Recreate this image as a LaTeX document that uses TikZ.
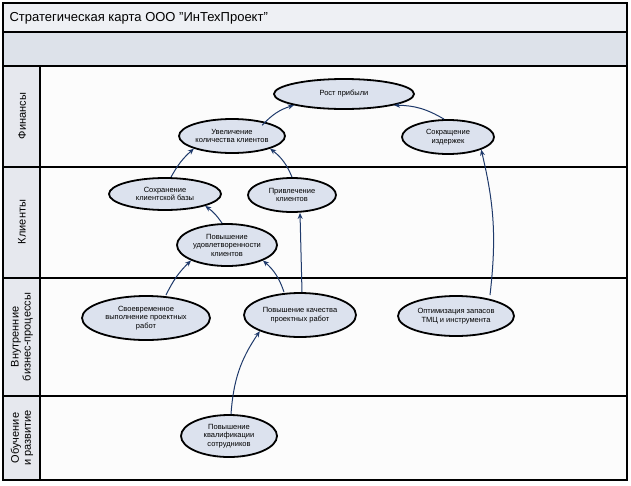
\documentclass[tikz,border=0pt]{standalone}
\usepackage{fontspec}
\setmainfont{Liberation Sans}
\usetikzlibrary{arrows.meta,shapes.geometric}
\begin{document}
\begin{tikzpicture}[x=1pt,y=-1pt,
  goal/.style={ellipse,draw=black,line width=1.8pt,fill=ellfill,inner sep=0pt,align=center,font=\fontsize{7.5}{8.5}\selectfont},
  link/.style={draw=arrowblue,line width=1pt,-{Stealth[length=6pt,width=5pt]}},
  frame/.style={draw=black,line width=1.6pt}]
\definecolor{ellfill}{HTML}{DCE2EE}
\definecolor{arrowblue}{HTML}{1F3A6B}
\definecolor{headfill}{HTML}{DDE2EA}
\definecolor{sidefill}{HTML}{E6E8EE}
\definecolor{titlefill}{HTML}{EEF0F4}
\useasboundingbox (0,0) rectangle (631,485);
\fill[white] (0,0) rectangle (631,485);
\fill[titlefill] (3,3) rectangle (627,32);
\fill[headfill] (3,33) rectangle (627,65);
\fill[sidefill] (3,66) rectangle (40,480);
\fill[black!1] (40,66) rectangle (627,480);
\draw[frame] (3,3) rectangle (627,480);
\draw[frame] (3,32) -- (627,32);
\draw[frame] (3,66) -- (627,66);
\draw[frame] (3,167) -- (627,167);
\draw[frame] (3,278) -- (627,278);
\draw[frame] (3,396) -- (627,396);
\draw[frame] (40,66) -- (40,480);
\node[anchor=west,font=\fontsize{13}{15}\selectfont] (title) at (6,18) {Стратегическая карта ООО "ИнТехПроект"};
\node[rotate=90,font=\fontsize{11}{12}\selectfont] (l1) at (22,116) {Финансы};
\node[rotate=90,font=\fontsize{11}{12}\selectfont] (l2) at (22,222) {Клиенты};
\node[rotate=90,font=\fontsize{11}{12}\selectfont,align=center] (l3) at (22,337) {Внутренние\\бизнес-процессы};
\node[rotate=90,font=\fontsize{11}{12}\selectfont,align=center] (l4) at (22,438) {Обучение\\и развитие};
\node[goal,minimum width=140pt,minimum height=30pt] (rost) at (344,94) {Рост прибыли};
\node[goal,minimum width=106pt,minimum height=34pt] (uvel) at (232,136) {Увеличение\\количества клиентов};
\node[goal,minimum width=92pt,minimum height=34pt] (sokr) at (448,137) {Сокращение\\издержек};
\node[goal,minimum width=112pt,minimum height=32pt] (sohr) at (165,194) {Сохранение\\клиентской базы};
\node[goal,minimum width=88pt,minimum height=34pt] (priv) at (292,195) {Привлечение\\клиентов};
\node[goal,minimum width=100pt,minimum height=42pt] (udov) at (227,245) {Повышение\\удовлетворенности\\клиентов};
\node[goal,minimum width=128pt,minimum height=44pt] (svoe) at (146,318) {Своевременное\\выполнение проектных\\работ};
\node[goal,minimum width=112pt,minimum height=44pt] (kach) at (300,315) {Повышение качества\\проектных работ};
\node[goal,minimum width=116pt,minimum height=40pt] (opt) at (456,316) {Оптимизация запасов\\ТМЦ и инструмента};
\node[goal,minimum width=96pt,minimum height=42pt] (kval) at (229,436) {Повышение\\квалификации\\сотрудников};
\draw[link] ([shift={(-8,2)}]uvel.north east) to[bend left=15] (rost.south west);
\draw[link] ([xshift=-4pt]sokr.north) to[bend right=15] (rost.south east);
\draw[link] ([xshift=6pt]sohr.north) to[bend left=10] (uvel.south west);
\draw[link] (priv.north) to[bend right=15] (uvel.south east);
\draw[link] ([xshift=-5pt]udov.north) to[bend right=10] (sohr.south east);
\draw[link] ([xshift=20pt]svoe.north) to[bend left=10] (udov.south west);
\draw[link] ([xshift=-16pt]kach.north) to[bend right=15] (udov.south east);
\draw[link] ([xshift=2pt]kach.north) -- ([xshift=8pt]priv.south);
\draw[link] ([xshift=34pt]opt.north) to[bend right=10] (sokr.south east);
\draw[link] ([xshift=2pt]kval.north) to[bend left=15] (kach.south west);
\end{tikzpicture}
\end{document}
